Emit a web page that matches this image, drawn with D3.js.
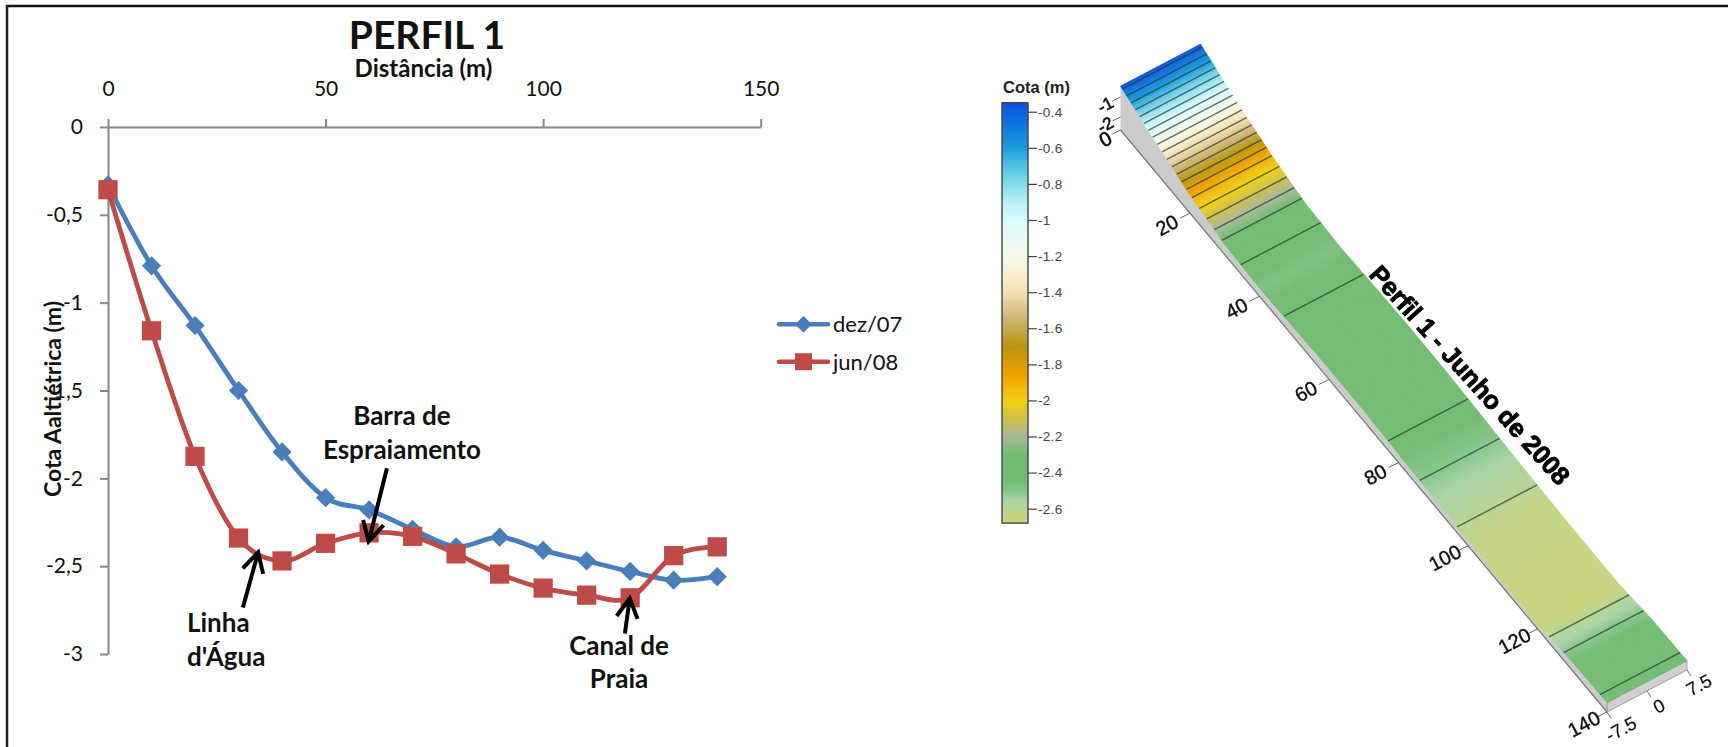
<!DOCTYPE html>
<html><head><meta charset="utf-8">
<script src="https://cdnjs.cloudflare.com/ajax/libs/d3/7.8.5/d3.min.js"></script>
<style>
html,body{margin:0;padding:0;background:#fff;overflow:hidden}
svg{display:block}
.chart text{font-family:Lato,"Open Sans",sans-serif}
.cal{fill:#111}
.panel text{font-family:"Liberation Sans",Arial,sans-serif}
</style></head><body>
<svg id="fig" class="chart" width="1728" height="747"></svg>
<script>
// ---- data ----
const distances = [0,10,20,30,40,50,60,70,80,90,100,110,120,130,140];
const dez07 = [-0.33,-0.79,-1.13,-1.50,-1.85,-2.11,-2.18,-2.29,-2.39,-2.335,-2.41,-2.47,-2.53,-2.58,-2.56];
const jun08 = [-0.357,-1.16,-1.875,-2.34,-2.47,-2.37,-2.31,-2.33,-2.43,-2.545,-2.625,-2.665,-2.68,-2.44,-2.39];
const xTicks = [0,50,100,150];
const yTicks = [0,-0.5,-1,-1.5,-2,-2.5,-3];
const seriesNames = ["dez/07","jun/08"];
const seriesColors = ["#4a7ebb","#be4b48"];
const annotationText = [["Barra de","Espraiamento"],["Linha","d'Água"],["Canal de","Praia"]];
const arrowFromX = [64.1,31,118.8], arrowFromY = [-1.943,-2.735,-2.883];
const arrowToX   = [59.9,34.5,119.9], arrowToY  = [-2.359,-2.422,-2.683];
const colorLevels = [-0.35,-0.45,-0.6,-0.75,-0.9,-1.0,-1.2,-1.3,-1.4,-1.55,-1.7,-1.85,-2.0,-2.1,-2.2,-2.3,-2.44,-2.5,-2.55,-2.6,-2.63,-2.68];
const colorValues = ["#0a4fe0","#0e6fe0","#1a9ddc","#6cd0e8","#b8f0f5","#d8fbff","#f5f9ea","#f8efd0","#f2dfb5","#cfb573","#b8960f","#ef9f00","#f0d010","#cfc04a","#a8b898","#71bb71","#71bb71","#85c58a","#a8d4a4","#b8d492","#c4d484","#c8d47c"];
const barTicks = [-0.4,-0.6,-0.8,-1,-1.2,-1.4,-1.6,-1.8,-2,-2.2,-2.4,-2.6];
const contourLevels = [-0.4,-0.5,-0.6,-0.7,-0.8,-0.9,-1.0,-1.1,-1.2,-1.3,-1.4,-1.5,-1.6,-1.7,-1.8,-1.9,-2.0,-2.1,-2.2,-2.3,-2.4,-2.5,-2.6];
const ribbonDistTicks = [20,40,60,80,100,120,140];
const ribbonZTicks = [-1,-2];
const ribbonWidthTicks = [-7.5,0,7.5];

const svg = d3.select("#fig");
const comma = d => String(d).replace(".",",");

// frame
svg.append("line").attr("x1",6).attr("x2",1728).attr("y1",6).attr("y2",6).attr("stroke","#111").attr("stroke-width",2.5);
svg.append("line").attr("x1",7).attr("x2",7).attr("y1",5).attr("y2",747).attr("stroke","#222").attr("stroke-width",2.5);

// ---- left chart ----
const x = d3.scaleLinear().domain([0,150]).range([108,760.7]);
const y = d3.scaleLinear().domain([0,-3]).range([127,654]);

const gx = svg.append("g").attr("transform",`translate(0,${y(0)})`)
  .call(d3.axisTop(x).tickValues(xTicks).tickSize(8).tickSizeOuter(0).tickPadding(23).tickFormat(comma));
const gy = svg.append("g").attr("transform",`translate(${x(0)},0)`)
  .call(d3.axisLeft(y).tickValues(yTicks).tickSize(8).tickSizeOuter(0).tickPadding(17).tickFormat(comma));
[gx,gy].forEach(g=>{
  g.selectAll(".domain,line").attr("stroke","#868686").attr("stroke-width",2);
  g.selectAll("text").attr("font-family",'Lato,"Open Sans",sans-serif').attr("font-size",21).attr("fill","#111");
});

svg.append("text").attr("class","cal").attr("x",427).attr("y",49).attr("text-anchor","middle")
  .attr("font-size",39).attr("font-weight",700).text("PERFIL 1");
svg.append("text").attr("class","cal").attr("x",423.5).attr("y",77).attr("text-anchor","middle")
  .attr("font-size",24).attr("font-weight",700).text("Distância (m)");
svg.append("text").attr("class","cal").attr("transform","translate(61,399) rotate(-90)").attr("text-anchor","middle")
  .attr("font-size",23).attr("font-weight",700).text("Cota Aaltiétrica (m)");

const line = d3.line().x((d,i)=>x(distances[i])).y(d=>y(d)).curve(d3.curveCatmullRom.alpha(0));
const diamond = d3.symbol(d3.symbolSquare,185)(), square = d3.symbol(d3.symbolSquare,370)();
[dez07,jun08].forEach((vals,s)=>{
  const g = svg.append("g");
  g.append("path").attr("d",line(vals)).attr("fill","none").attr("stroke",seriesColors[s]).attr("stroke-width",4.8).attr("stroke-linecap","round");
  g.selectAll("path.m").data(vals).join("path").attr("class","m")
    .attr("d",s===0?diamond:square)
    .attr("fill",seriesColors[s])
    .attr("transform",(d,i)=>`translate(${x(distances[i])},${y(d)})`+(s===0?" rotate(45)":""));
});

// legend
seriesNames.forEach((n,i)=>{
  const ly = 324.3 + i*37.4;
  svg.append("line").attr("x1",779).attr("x2",828).attr("y1",ly).attr("y2",ly).attr("stroke",seriesColors[i]).attr("stroke-width",4.5).attr("stroke-linecap","round");
  svg.append("path").attr("d",d3.symbol(d3.symbolSquare,i===0?140:289)())
    .attr("fill",seriesColors[i]).attr("transform",`translate(803.5,${ly})`+(i===0?" rotate(45)":""));
  svg.append("text").attr("class","cal").attr("x",833).attr("y",ly+8).attr("font-size",22).text(n);
});

// annotations
const defs = svg.append("defs");
function arrow(i){
  const x0=x(arrowFromX[i]),y0=y(arrowFromY[i]),x1=x(arrowToX[i]),y1=y(arrowToY[i]);
  const a=Math.atan2(y1-y0,x1-x0), h=22, w=0.5;
  const p = d3.path(); p.moveTo(x0,y0); p.lineTo(x1,y1);
  p.moveTo(x1-h*Math.cos(a-w),y1-h*Math.sin(a-w)); p.lineTo(x1,y1); p.lineTo(x1-h*Math.cos(a+w),y1-h*Math.sin(a+w));
  svg.append("path").attr("d",p.toString()).attr("fill","none").attr("stroke","#000").attr("stroke-width",4);
}
[0,1,2].forEach(arrow);
const labelPos = [[402,425,459,"middle"],[187,632,666,"start"],[619,655,688,"middle"]];
annotationText.forEach((ls,i)=>ls.forEach((t,j)=>{
  svg.append("text").attr("class","cal").attr("x",labelPos[i][0]).attr("y",labelPos[i][1+j])
    .attr("text-anchor",labelPos[i][3]).attr("font-size",26).attr("font-weight",700).text(t);
}));

// ---- colour bar ----
const color = d3.scaleLinear().domain(colorLevels).range(colorValues).clamp(true);
const panel = svg.append("g").attr("class","panel");
const blur = defs.append("filter").attr("id","soft").attr("x","-5%").attr("y","-5%").attr("width","110%").attr("height","110%");
blur.append("feGaussianBlur").attr("stdDeviation",0.55);

const barScale = d3.scaleLinear().domain([-0.4,-2.6]).range([111.7,508.7]);
const barTop = barScale(colorLevels[0]), barBot = barScale(colorLevels[colorLevels.length-1]);
const grad = defs.append("linearGradient").attr("id","bar").attr("x1",0).attr("x2",0).attr("y1",0).attr("y2",1);
colorLevels.forEach((l,i)=>grad.append("stop").attr("offset",(barScale(l)-barTop)/(barBot-barTop)).attr("stop-color",colorValues[i]));
panel.append("rect").attr("x",1002).attr("y",barTop).attr("width",26).attr("height",barBot-barTop)
  .attr("fill","url(#bar)").attr("stroke","#444").attr("stroke-width",1.4);
const gb = panel.append("g").attr("transform","translate(1028,0)")
  .call(d3.axisRight(barScale).tickValues(barTicks).tickSize(9).tickSizeOuter(0).tickPadding(1).tickFormat(d=>String(d)));
gb.select(".domain").remove();
gb.selectAll("line").attr("stroke","#444").attr("stroke-width",1.2);
gb.selectAll("text").attr("font-family",'"Liberation Sans",Arial,sans-serif').attr("font-size",13.5).attr("fill","#444").attr("letter-spacing",0.3);
panel.append("text").attr("x",1003).attr("y",93).attr("font-size",16.5).attr("font-weight",700).attr("fill","#222").text("Cota (m)");

// ---- 3D ribbon (jun/08 surface) ----
const px = d3.scaleLinear().domain([0,140]).range([1120.5,1607]);
const py = d3.scaleLinear().domain([0,140]).range([130,712]);
const wx = d3.scaleLinear().domain([-7.5,7.5]).range([0,80]);
const wy = d3.scaleLinear().domain([-7.5,7.5]).range([0,-42]);
const zy = d3.scaleLinear().domain([-2.94,-0.35]).range([0,-44]);
const proj = (d,w,z)=>[px(d)+wx(w), py(d)+wy(w)+zy(z)];
const profile = d3.scaleLinear().domain(distances).range(jun08);
const ribbon = panel.append("g").attr("filter","url(#soft)");
const poly = p=>p.map(q=>q.join(",")).join(" ");

// side and front walls
const wallPts = distances.map((d,i)=>proj(d,-7.5,jun08[i]))
  .concat([proj(140,-7.5,-2.94),proj(0,-7.5,-2.94)]);
ribbon.append("polygon").attr("points",poly(wallPts)).attr("fill","#cbcbcb");
ribbon.append("line").attr("x1",proj(0,-7.5,-2.94)[0]).attr("y1",proj(0,-7.5,-2.94)[1]).attr("x2",proj(140,-7.5,-2.94)[0]).attr("y2",proj(140,-7.5,-2.94)[1]).attr("stroke","#777").attr("stroke-width",1.2);
ribbon.append("polygon").attr("points",poly([proj(140,-7.5,jun08[14]),proj(140,7.5,jun08[14]),proj(140,7.5,-2.94),proj(140,-7.5,-2.94)]))
  .attr("fill","#cfcfcf").attr("stroke","#8a8a8a").attr("stroke-width",0.8);

// surface strips
const steps = d3.range(0,140,0.25);
ribbon.selectAll("polygon.s").data(steps).join("polygon").attr("class","s")
  .attr("points",d=>poly([proj(d,-7.5,profile(d)),proj(d,7.5,profile(d)),proj(d+0.25,7.5,profile(d+0.25)),proj(d+0.25,-7.5,profile(d+0.25))]))
  .attr("fill",d=>color(profile(d+0.125))).attr("stroke",d=>color(profile(d+0.125))).attr("stroke-width",0.6);

// contour lines
contourLevels.forEach(l=>{
  for(let i=0;i<distances.length-1;i++){
    const a=jun08[i],b=jun08[i+1];
    if((a-l)*(b-l)<0){
      const d=distances[i]+(l-a)/(b-a)*(distances[i+1]-distances[i]);
      const p=proj(d,-7.5,l),q=proj(d,7.5,l);
      ribbon.append("line").attr("x1",p[0]).attr("y1",p[1]).attr("x2",q[0]).attr("y2",q[1])
        .attr("stroke","#23402c").attr("stroke-opacity",0.72).attr("stroke-width",1.4);
    }
  }
});

// ribbon ticks and labels
const axisInk = "#666";
function tick(a,b){ ribbon.append("line").attr("x1",a[0]).attr("y1",a[1]).attr("x2",b[0]).attr("y2",b[1]).attr("stroke",axisInk).attr("stroke-width",1); }
function rlabel(t,pos,rot,size,sw){
  ribbon.append("text").attr("transform",`translate(${pos[0]},${pos[1]}) rotate(${rot})`)
    .attr("text-anchor","middle").attr("dominant-baseline","central")
    .attr("font-size",size).attr("fill","#111").attr("stroke","#111").attr("stroke-width",sw).text(t);
}
ribbonDistTicks.forEach(d=>{
  const b=proj(d,-7.5,-2.94);
  tick(b,[b[0]-10,b[1]+5]);
  rlabel(d,[b[0]-23,b[1]+12],-28,20,0.4);
});
ribbonZTicks.forEach((z,i)=>{
  const b=[proj(0,-7.5,-2.94)[0], i===0?97:117];
  tick(b,[b[0]-8,b[1]+4]);
  rlabel(z,[b[0]-15,b[1]+8],-28,17,0.6);
});
{ const b=proj(0,-7.5,-2.94); tick(b,[b[0]-8,b[1]+4]); rlabel("0",[b[0]-15,b[1]+9],-28,20,0.7); }
ribbonWidthTicks.forEach(w=>{
  const b=proj(140,w,-2.94);
  tick(b,[b[0]+4,b[1]+6]);
  rlabel(w,[b[0]+(w===-7.5?14:12),b[1]+(w===-7.5?17:15)],-28,18.5,0.2);
});
// panel title
ribbon.append("text").attr("transform","translate(1470,375) rotate(48)").attr("text-anchor","middle").attr("dominant-baseline","central")
  .attr("font-size",25.5).attr("font-weight",700).attr("fill","#000").attr("stroke","#000").attr("stroke-width",0.9).text("Perfil 1 - Junho de 2008");
</script>
</body></html>
